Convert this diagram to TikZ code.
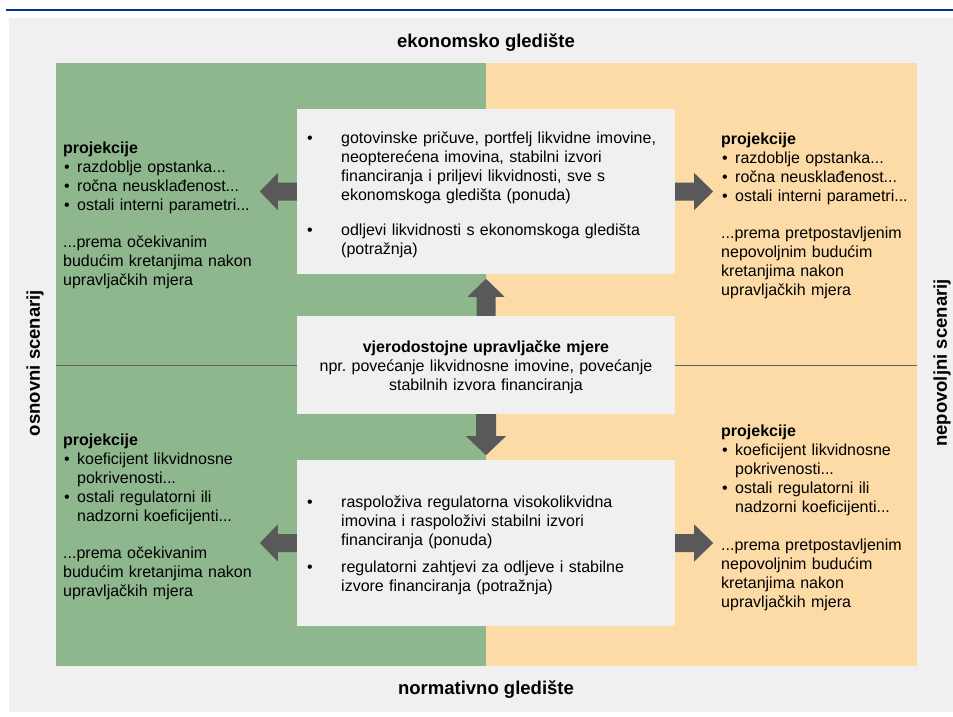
\documentclass[tikz,border=0pt]{standalone}
\usepackage{fontspec}
\setmainfont{Liberation Sans}
\usetikzlibrary{calc}
\frenchspacing
\definecolor{bgc}{HTML}{F0F0F0}
\definecolor{boxc}{HTML}{F0F0F0}
\definecolor{greenc}{HTML}{8EB78D}
\definecolor{peachc}{HTML}{FCDBA7}
\definecolor{arrowc}{HTML}{595959}
\definecolor{divc}{HTML}{606060}
\definecolor{bluec}{HTML}{00339A}
\tikzset{
  txt/.style={font=\fontsize{16}{19}\selectfont, align=left, anchor=base west, inner sep=0pt, text width=#1},
  ctxt/.style={font=\fontsize{16}{19}\selectfont, align=center, anchor=base, inner sep=0pt, text width=#1},
  headlbl/.style={font=\fontsize{18.5}{22}\selectfont\bfseries, inner sep=0pt},
  boxnode/.style={fill=boxc, draw=none, inner sep=0pt, minimum width=378pt, minimum height=#1},
  blockarrow/.style={fill=arrowc}
}
\newcommand{\sbul}{\hspace*{1pt}\makebox[13pt][l]{•}}
\newcommand{\sind}{\hspace*{14pt}}
\newcommand{\cbul}{\makebox[34pt][l]{•}}
\newcommand{\cind}{\hspace*{34pt}}
\begin{document}
\begin{tikzpicture}[x=1pt,y=-1pt]
\useasboundingbox (0,0) rectangle (953,717);
\fill[white] (0,0) rectangle (953,717);
\draw[bluec, line width=2.5pt] (6,10) -- (953,10);
\fill[bgc] (9,18) rectangle (953,712);
\fill[greenc] (56,63) rectangle (486,666);
\fill[peachc] (486,63) rectangle (917,666);
\draw[divc, line width=0.8pt] (56,365) -- (917,365);

% labels
\node[headlbl] (ekon) at (486,43) {ekonomsko gledište};
\node[headlbl] (norm) at (486,690) {normativno gledište};
\node[headlbl, rotate=90] (osn) at (35,363) {osnovni scenarij};
\node[headlbl, rotate=90] (nep) at (942,363) {nepovoljni scenarij};

% central boxes
\node[boxnode=165pt] (top) at (486,191.5) {};
\node[boxnode=98pt] (mid) at (486,365) {};
\node[boxnode=166pt] (bot) at (486,543) {};

\node[txt=360pt] (toptext) at (307,143) {\cbul gotovinske pričuve, portfelj likvidne imovine,\\
\cind neopterećena imovina, stabilni izvori\\
\cind financiranja i priljevi likvidnosti, sve s\\
\cind ekonomskoga gledišta (ponuda)\\[16pt]
\cbul odljevi likvidnosti s ekonomskoga gledišta\\
\cind (potražnja)};

\node[ctxt=378pt] (midtext) at (486,352) {\textbf{vjerodostojne upravljačke mjere}\\
npr.\ povećanje likvidnosne imovine, povećanje\\
stabilnih izvora financiranja};

\node[txt=360pt] (bottext) at (307,507) {\cbul raspoloživa regulatorna visokolikvidna\\
\cind imovina i raspoloživi stabilni izvori\\
\cind financiranja (ponuda)\\[8pt]
\cbul regulatorni zahtjevi za odljeve i stabilne\\
\cind izvore financiranja (potražnja)};

% side texts
\node[txt=220pt] (lt) at (63,153) {\textbf{projekcije}\\
\sbul razdoblje opstanka...\\
\sbul ročna neusklađenost...\\
\sbul ostali interni parametri...\\[18pt]
...prema očekivanim\\
budućim kretanjima nakon\\
upravljačkih mjera};

\node[txt=190pt] (rt) at (721,144) {\textbf{projekcije}\\
\sbul razdoblje opstanka...\\
\sbul ročna neusklađenost...\\
\sbul ostali interni parametri...\\[18pt]
...prema pretpostavljenim\\
nepovoljnim budućim\\
kretanjima nakon\\
upravljačkih mjera};

\node[txt=220pt] (lb) at (63,445) {\textbf{projekcije}\\
\sbul koeficijent likvidnosne\\
\sind pokrivenosti...\\
\sbul ostali regulatorni ili\\
\sind nadzorni koeficijenti...\\[18pt]
...prema očekivanim\\
budućim kretanjima nakon\\
upravljačkih mjera};

\node[txt=190pt] (rb) at (721,436) {\textbf{projekcije}\\
\sbul koeficijent likvidnosne\\
\sind pokrivenosti...\\
\sbul ostali regulatorni ili\\
\sind nadzorni koeficijenti...\\[19pt]
...prema pretpostavljenim\\
nepovoljnim budućim\\
kretanjima nakon\\
upravljačkih mjera};

% block arrows
\fill[blockarrow, shift={(mid.north)}] (-9.5,0) -- (-9.5,-19) -- (-18.5,-19) -- (0,-37) -- (18.5,-19) -- (9.5,-19) -- (9.5,0) -- cycle;
\fill[blockarrow, shift={(mid.south)}] (-10,0) -- (-10,22) -- (-20,22) -- (0,41) -- (20,22) -- (10,22) -- (10,0) -- cycle;
\fill[blockarrow, shift={(top.west)}] (0,-9) -- (-19,-9) -- (-19,-18.5) -- (-37,0) -- (-19,18.5) -- (-19,9) -- (0,9) -- cycle;
\fill[blockarrow, shift={(top.east)}] (0,-9) -- (19,-9) -- (19,-18.5) -- (38,0) -- (19,18.5) -- (19,9) -- (0,9) -- cycle;
\fill[blockarrow, shift={(bot.west)}] (0,-9) -- (-19,-9) -- (-19,-18.5) -- (-37,0) -- (-19,18.5) -- (-19,9) -- (0,9) -- cycle;
\fill[blockarrow, shift={(bot.east)}] (0,-9) -- (19,-9) -- (19,-18.5) -- (38,0) -- (19,18.5) -- (19,9) -- (0,9) -- cycle;
\end{tikzpicture}
\end{document}
